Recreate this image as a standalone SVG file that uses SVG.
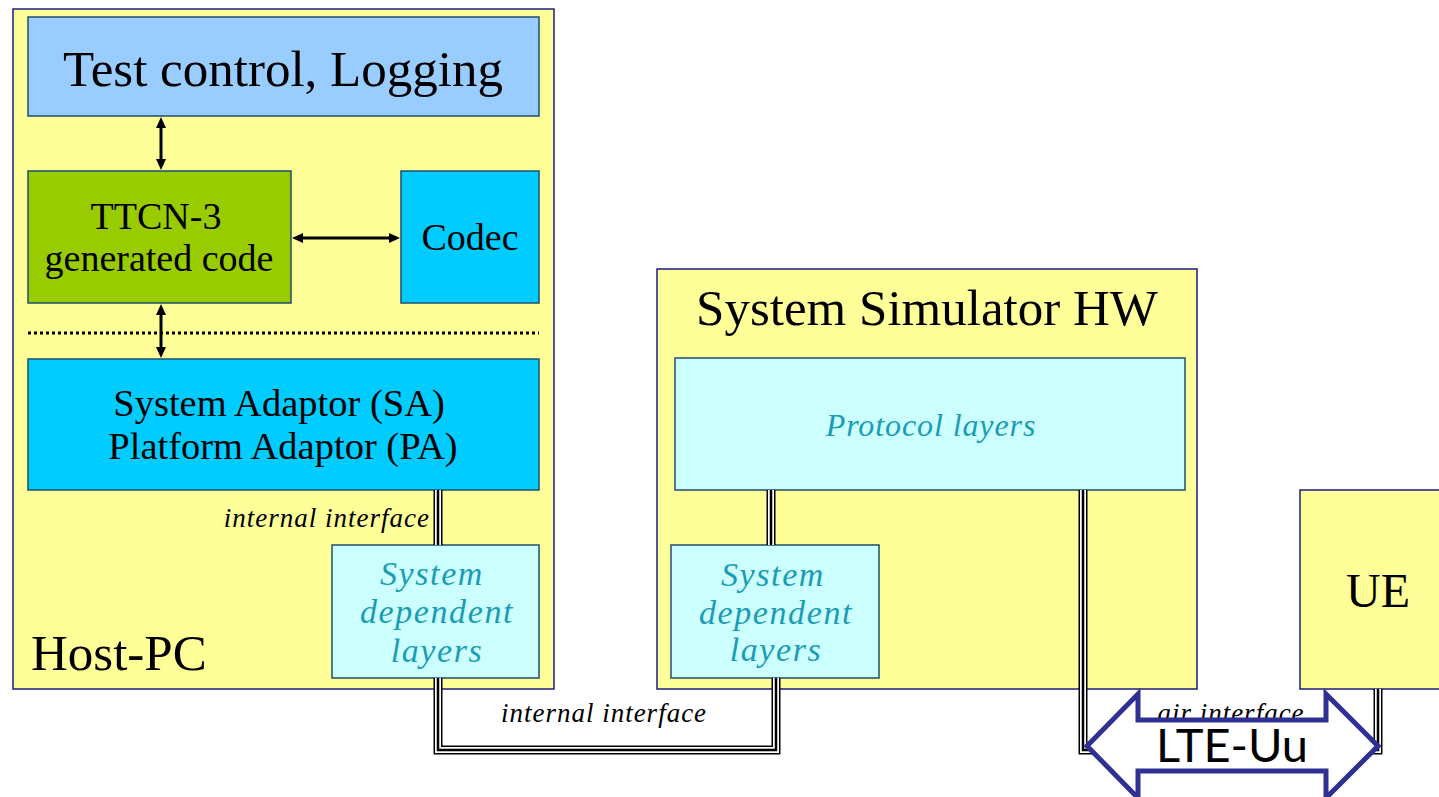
<svg xmlns="http://www.w3.org/2000/svg" width="1439" height="797" viewBox="0 0 1439 797">
  <defs>
    <style>
      .frame{fill:#ffff99;stroke:#1c1c80;stroke-width:1.5}
      .box{stroke:#1f4e6e;stroke-width:1.5}
      .t{font-family:"Liberation Serif","Times New Roman",serif;fill:#000;text-anchor:middle}
      .it{font-style:italic;fill:#1a9cb4;letter-spacing:1.6px}
      .lbl{font-family:"Liberation Serif","Times New Roman",serif;font-style:italic;fill:#000;font-size:27px;letter-spacing:1px}
      .rail-o{fill:none;stroke:#000;stroke-width:9}
      .rail-m{fill:none;stroke:#fff;stroke-width:6}
      .rail-i{fill:none;stroke:#000;stroke-width:2.5}
      .shaft{stroke:#000;stroke-width:3}
      .head{fill:#000}
    </style>
  </defs>

  <rect width="1439" height="797" fill="#fff"/>

  <!-- Host PC container -->
  <g id="host-pc">
    <rect class="frame" x="13" y="9" width="541" height="680"/>
    <text class="t" x="31" y="670" font-size="51" style="text-anchor:start">Host-PC</text>
  </g>

  <g id="test-control">
    <rect class="box" x="28" y="17" width="511" height="99" fill="#99ccff"/>
    <text class="t" x="283" y="86" font-size="51">Test control, Logging</text>
  </g>

  <g id="ttcn3">
    <rect class="box" x="28" y="171" width="263" height="132" fill="#99cc00"/>
    <text class="t" x="156" y="229" font-size="38">TTCN-3</text>
    <text class="t" x="159" y="271" font-size="38">generated code</text>
  </g>

  <g id="codec">
    <rect class="box" x="401" y="171" width="138" height="132" fill="#00ccff"/>
    <text class="t" x="470" y="250" font-size="38">Codec</text>
  </g>

  <g id="adaptor">
    <rect class="box" x="28" y="359" width="511" height="131" fill="#00ccff"/>
    <text class="t" x="279" y="416" font-size="38.5">System Adaptor (SA)</text>
    <text class="t" x="283" y="459" font-size="38.5">Platform Adaptor (PA)</text>
  </g>

  <g id="host-sdl">
    <rect class="box" x="332" y="545" width="207" height="133" fill="#ccffff"/>
    <text class="t it" x="432" y="585" font-size="34">System</text>
    <text class="t it" x="437" y="623" font-size="34">dependent</text>
    <text class="t it" x="437" y="662" font-size="34">layers</text>
  </g>

  <!-- System simulator container -->
  <g id="system-simulator">
    <rect class="frame" x="657" y="269" width="540" height="420"/>
    <text class="t" x="927" y="325" font-size="51">System Simulator HW</text>
  </g>

  <g id="protocol-layers">
    <rect class="box" x="675" y="358" width="510" height="132" fill="#ccffff"/>
    <text class="t it" x="931" y="436" font-size="32" style="letter-spacing:0.9px">Protocol layers</text>
  </g>

  <g id="ss-sdl">
    <rect class="box" x="671" y="545" width="208" height="133" fill="#ccffff"/>
    <text class="t it" x="773" y="586" font-size="34">System</text>
    <text class="t it" x="776" y="624" font-size="34">dependent</text>
    <text class="t it" x="776" y="661" font-size="34">layers</text>
  </g>

  <g id="ue">
    <rect class="frame" x="1300" y="490" width="150" height="199"/>
    <text class="t" x="1378" y="607" font-size="48">UE</text>
  </g>

  <!-- connectors -->
  <g id="connectors">
    <!-- dotted separator between generated code and adaptor layer -->
    <line x1="28" y1="333" x2="539" y2="333" stroke="#000" stroke-width="3" stroke-dasharray="3 3"/>

    <!-- control <-> TTCN-3 -->
    <line class="shaft" x1="161" y1="126" x2="161" y2="161"/>
    <polygon class="head" points="161,117 156,128 166,128"/>
    <polygon class="head" points="161,170 156,159 166,159"/>

    <!-- TTCN-3 <-> adaptor -->
    <line class="shaft" x1="161" y1="313" x2="161" y2="349"/>
    <polygon class="head" points="161,304 156,315 166,315"/>
    <polygon class="head" points="161,358 156,347 166,347"/>

    <!-- TTCN-3 <-> codec -->
    <line class="shaft" x1="301" y1="238" x2="391" y2="238"/>
    <polygon class="head" points="292,238 303,233 303,243"/>
    <polygon class="head" points="400,238 389,233 389,243"/>

    <!-- triple-line interfaces -->
    <g id="rails">
      <path class="rail-o" d="M438,490V545M438,678V750H776V678M771,490V545M1083,490V750H1378V689"/>
      <path class="rail-m" d="M438,490V545M438,678V750H776V678M771,490V545M1083,490V750H1378V689"/>
      <path class="rail-i" d="M438,490V545M438,678V750H776V678M771,490V545M1083,490V750H1378V689"/>
    </g>

    <text class="lbl" x="430" y="527" text-anchor="end">internal interface</text>
    <text class="lbl" x="604" y="722" text-anchor="middle">internal interface</text>
    <text class="lbl" x="1231" y="722" text-anchor="middle">air interface</text>
  </g>

  <!-- LTE-Uu double arrow, drawn over the air interface line -->
  <g id="lte-uu">
    <polygon points="1087,746 1138,694 1138,720 1326,720 1326,694 1378,746 1326,798 1326,771 1138,771 1138,798" fill="#fff" stroke="#2e3192" stroke-width="5"/>
    <text x="1232" y="762" font-family="Lato,'Liberation Sans',sans-serif" font-size="47" text-anchor="middle" fill="#000">LTE-Uu</text>
  </g>
</svg>
